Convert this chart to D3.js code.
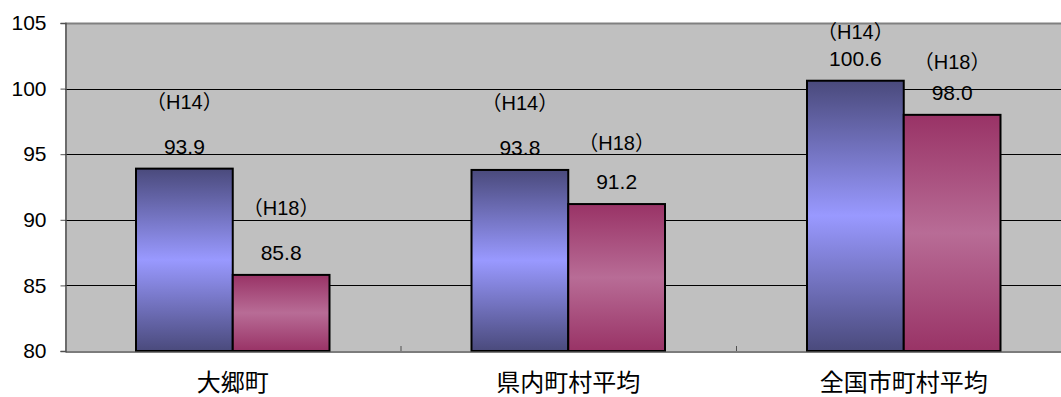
<!DOCTYPE html>
<html>
<head>
<meta charset="utf-8">
<script src="https://cdn.jsdelivr.net/npm/d3@7"></script>
<style>
  html, body { margin: 0; padding: 0; background: #fff; overflow: hidden; }
  svg { display: block; }
</style>
</head>
<body>
<div id="chart"></div>
<script>
// Data
const categories = ["大郷町", "県内町村平均", "全国市町村平均"];
const periods = ["H14", "H18"];
const valuesH14 = [93.9, 93.8, 100.6];
const valuesH18 = [85.8, 91.2, 98.0];
const yTicks = [80, 85, 90, 95, 100, 105];
// gap (px) between bar top and the period label baseline, per bar
const periodLabelGapH14 = [60, 60, 42];
const periodLabelGapH18 = [60, 54, 46];

const width = 1061;
const height = 397;
const marginTop = 23;
const marginLeft = 65;
const plotBottom = 351;
const categoryWidth = 335.5;

const svg = d3.select("#chart").append("svg")
    .attr("width", width)
    .attr("height", height);

const defs = svg.append("defs");

function addGradient(id, edge, mid) {
    const g = defs.append("linearGradient")
        .attr("id", id)
        .attr("x1", 0).attr("y1", 0)
        .attr("x2", 0).attr("y2", 1);
    g.append("stop").attr("offset", "0%").attr("stop-color", edge);
    g.append("stop").attr("offset", "50%").attr("stop-color", mid);
    g.append("stop").attr("offset", "100%").attr("stop-color", edge);
}
addGradient("gradH14", "#4a4a7c", "#9999ff");
addGradient("gradH18", "#993366", "#b86c96");

// Scales
const x0 = d3.scaleBand()
    .domain(categories)
    .range([marginLeft, marginLeft + categoryWidth * categories.length])
    .padding(0);

const x1 = d3.scaleBand()
    .domain(periods)
    .range([71, categoryWidth - 71])
    .padding(0);

const y = d3.scaleLinear([80, 105], [plotBottom, marginTop]);

// Plot background
svg.append("rect")
    .attr("x", marginLeft)
    .attr("y", marginTop)
    .attr("width", x0.range()[1] - marginLeft)
    .attr("height", plotBottom - marginTop)
    .attr("fill", "#c0c0c0");

// Grid lines
svg.append("g")
    .selectAll("line")
    .data(yTicks.filter(d => d > 80 && d < 105))
    .join("line")
    .attr("x1", marginLeft)
    .attr("x2", x0.range()[1])
    .attr("y1", d => Math.round(y(d)) + 0.5)
    .attr("y2", d => Math.round(y(d)) + 0.5)
    .attr("stroke", "#000")
    .attr("stroke-width", 1);

// Top border
svg.append("line")
    .attr("x1", marginLeft)
    .attr("x2", x0.range()[1])
    .attr("y1", Math.round(y(105)) + 0.5)
    .attr("y2", Math.round(y(105)) + 0.5)
    .attr("stroke", "#808080")
    .attr("stroke-width", 2);

// Y axis
const yAxis = d3.axisLeft(y)
    .tickValues(yTicks)
    .tickSize(5)
    .tickPadding(14)
    .tickFormat(d3.format("d"));

svg.append("g")
    .attr("transform", `translate(${marginLeft + 0.5},0)`)
    .call(yAxis)
    .call(g => g.select(".domain").attr("stroke", "#505050").attr("stroke-width", 1.5))
    .call(g => g.selectAll(".tick line").attr("stroke", "#505050"))
    .call(g => g.selectAll(".tick text")
        .attr("font-family", "'Liberation Sans', Arial, sans-serif")
        .attr("font-size", "21px")
        .attr("fill", "#000"));

// Bars
const series = [
    { key: "H14", values: valuesH14, gaps: periodLabelGapH14, fill: "url(#gradH14)" },
    { key: "H18", values: valuesH18, gaps: periodLabelGapH18, fill: "url(#gradH18)" }
];

const groups = svg.append("g")
    .selectAll("g")
    .data(categories)
    .join("g")
    .attr("transform", d => `translate(${x0(d)},0)`);

series.forEach(s => {
    groups.append("rect")
        .attr("x", (d, i) => x1(s.key))
        .attr("y", (d, i) => y(s.values[i]))
        .attr("width", x1.bandwidth())
        .attr("height", (d, i) => y(80) - y(s.values[i]))
        .attr("fill", s.fill)
        .attr("stroke", "#000")
        .attr("stroke-width", 2);
});

// Bottom axis
const xAxis = d3.axisBottom(x0).tickSize(0).tickPadding(22);
svg.append("g")
    .attr("transform", `translate(0,${plotBottom + 0.5})`)
    .call(xAxis)
    .call(g => g.select(".domain").attr("stroke", "#505050").attr("stroke-width", 1.5))
    .call(g => g.selectAll(".tick text")
        .attr("font-family", "'Noto Sans CJK JP', sans-serif")
        .attr("font-size", "24px")
        .attr("fill", "#000"));

// Category boundary ticks (inside)
svg.append("g")
    .selectAll("line")
    .data(categories.slice(1))
    .join("line")
    .attr("x1", d => x0(d) + 0.5)
    .attr("x2", d => x0(d) + 0.5)
    .attr("y1", plotBottom)
    .attr("y2", plotBottom - 5)
    .attr("stroke", "#505050");

// Value and period labels
series.forEach(s => {
    groups.append("text")
        .attr("x", x1(s.key) + x1.bandwidth() / 2)
        .attr("y", (d, i) => y(s.values[i]) - 15)
        .attr("text-anchor", "middle")
        .attr("font-family", "'Liberation Sans', Arial, sans-serif")
        .attr("font-size", "21px")
        .text((d, i) => s.values[i].toFixed(1));

    groups.append("text")
        .attr("x", x1(s.key) + x1.bandwidth() / 2)
        .attr("y", (d, i) => y(s.values[i]) - s.gaps[i])
        .attr("text-anchor", "middle")
        .attr("font-family", "'Liberation Sans', 'Noto Sans CJK JP', sans-serif")
        .attr("font-size", "20px")
        .text(`（${s.key}）`);
});
</script>
</body>
</html>
